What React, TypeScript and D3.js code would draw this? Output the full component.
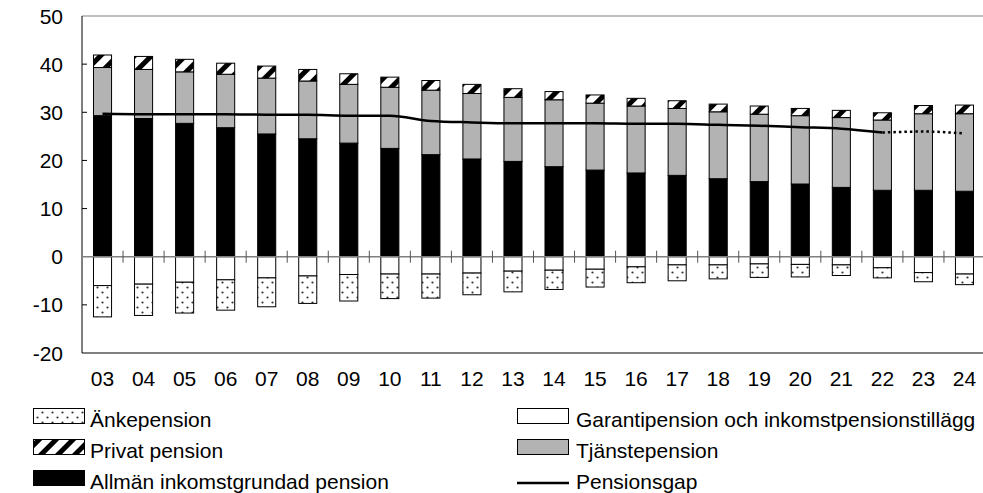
import React from 'react';
import * as d3 from 'd3';

// Years (x categories)
const years = ['03','04','05','06','07','08','09','10','11','12','13','14','15','16','17','18','19','20','21','22','23','24'];

// Positive stack
const allman   = [29.3,28.7,27.7,26.8,25.5,24.5,23.6,22.5,21.2,20.3,19.8,18.7,18.0,17.4,16.9,16.2,15.6,15.1,14.4,13.8,13.8,13.6];
const tjanste  = [10.0,10.2,10.7,11.1,11.6,12.0,12.2,12.7,13.4,13.6,13.3,13.9,13.9,13.9,13.9,13.9,14.0,14.2,14.5,14.6,15.9,16.1];
const privat   = [2.6,2.7,2.6,2.3,2.5,2.4,2.2,2.1,2.0,1.9,1.8,1.7,1.7,1.6,1.6,1.6,1.7,1.5,1.5,1.5,1.7,1.8];
// Negative stack
const garanti  = [-6.0,-5.7,-5.3,-4.8,-4.4,-4.0,-3.7,-3.6,-3.6,-3.4,-3.0,-2.8,-2.6,-2.1,-1.7,-1.7,-1.5,-1.6,-1.7,-2.3,-3.3,-3.6];
const anke     = [-6.5,-6.5,-6.4,-6.3,-6.0,-5.7,-5.5,-5.1,-5.0,-4.5,-4.3,-4.0,-3.7,-3.3,-3.3,-2.9,-2.8,-2.6,-2.2,-2.1,-1.9,-2.2];
// Line
const pensionsgap = [29.7,29.6,29.6,29.6,29.5,29.5,29.3,29.3,28.2,27.9,27.7,27.7,27.7,27.6,27.6,27.4,27.2,26.9,26.6,25.8,26.0,25.6];
const forecastFrom = 19; // index of '22', dotted after this

const yTicks = [50,40,30,20,10,0,-10,-20];

const W = 983, H = 493;
const font = 'Arial, "Liberation Sans", sans-serif';

const keys = ['allman','garanti','tjanste','anke','privat'];
const fills: Record<string,string> = {
  allman: '#000',
  garanti: '#fff',
  tjanste: '#b3b3b3',
  anke: 'url(#dots)',
  privat: 'url(#stripes)',
};

export default function App() {
  const rows = years.map((y, i) => ({
    year: y,
    allman: allman[i], garanti: garanti[i], tjanste: tjanste[i], anke: anke[i], privat: privat[i],
  }));
  const series = d3.stack<any>().keys(keys).offset(d3.stackOffsetDiverging)(rows);

  const x = d3.scaleBand().domain(years).range([82, 985]).paddingInner(0.56).paddingOuter(0.28);
  const y = d3.scaleLinear().domain([-20, 50]).range([353, 16]);
  const step = x.step();
  const cx = (d: string) => (x(d) as number) + x.bandwidth() / 2;

  const line = d3.line<number>().x((_, i) => cx(years[i])).y(v => y(v)).curve(d3.curveMonotoneX);
  const solidPts = pensionsgap.slice(0, forecastFrom + 1);
  const dotted = d3.line<number>().x((_, i) => cx(years[i + forecastFrom])).y(v => y(v)).curve(d3.curveMonotoneX);
  const dottedPts = pensionsgap.slice(forecastFrom);

  const legendLeft = [
    { label: 'Änkepension', fill: 'url(#dots)' },
    { label: 'Privat pension', fill: 'url(#stripes)' },
    { label: 'Allmän inkomstgrundad pension', fill: '#000' },
  ];
  const legendRight = [
    { label: 'Garantipension och inkomstpensionstillägg', fill: '#fff' },
    { label: 'Tjänstepension', fill: '#b3b3b3' },
    { label: 'Pensionsgap', fill: null },
  ];

  return (
    <div style={{ position: 'absolute', left: 0, top: 0 }}>
      <svg width={W} height={H} style={{ display: 'block', fontFamily: font }}>
        <defs>
          <pattern id="dots" patternUnits="userSpaceOnUse" width="10" height="10">
            <rect width="10" height="10" fill="#fff" />
            <circle cx="2.5" cy="2.5" r="1.1" fill="#333" />
            <circle cx="7.5" cy="7.5" r="1.1" fill="#333" />
          </pattern>
          <pattern id="stripes" patternUnits="userSpaceOnUse" width="12" height="12" patternTransform="rotate(45)">
            <rect width="12" height="12" fill="#fff" />
            <rect width="5" height="12" fill="#000" />
          </pattern>
        </defs>

        {/* frame */}
        <line x1={82} x2={985} y1={y(50)} y2={y(50)} stroke="#808080" />
        <line x1={82} x2={985} y1={y(-20)} y2={y(-20)} stroke="#000" />
        <line x1={82} x2={82} y1={y(50)} y2={y(-20)} stroke="#000" />

        {yTicks.map(t => (
          <g key={t}>
            {t !== 50 && t !== -20 && t !== 0 && (
              <line x1={82} x2={87} y1={y(t)} y2={y(t)} stroke="#000" />
            )}
            <text x={63} y={y(t)} dy="0.36em" textAnchor="end" fontSize={21}>{t}</text>
          </g>
        ))}

        {/* bars */}
        {series.map(s => (
          <g key={s.key}>
            {s.map((d, i) => (
              <rect key={i}
                x={x(years[i])}
                width={x.bandwidth()}
                y={y(Math.max(d[0], d[1]))}
                height={Math.abs(y(d[0]) - y(d[1]))}
                fill={fills[s.key]}
                stroke="#000"
                strokeWidth={1}
              />
            ))}
          </g>
        ))}

        {/* zero line with category ticks */}
        <line x1={82} x2={985} y1={y(0)} y2={y(0)} stroke="#808080" strokeWidth={1.5} />
        {years.slice(1).map(yr => (
          <line key={yr} x1={(x(yr) as number) - step * 0.28} x2={(x(yr) as number) - step * 0.28}
            y1={y(0) - 6} y2={y(0) + 6} stroke="#555" />
        ))}

        {/* pensionsgap */}
        <path d={line(solidPts) || ''} fill="none" stroke="#000" strokeWidth={2.5} />
        <path d={dotted(dottedPts) || ''} fill="none" stroke="#000" strokeWidth={2.5} strokeDasharray="2.5 3" />

        {/* x labels */}
        {years.map(yr => (
          <text key={yr} x={cx(yr)} y={386} textAnchor="middle" fontSize={21}>{yr}</text>
        ))}

        {/* legend */}
        {legendLeft.map((l, i) => (
          <g key={l.label}>
            <rect x={33.5} y={408.5 + i * 31} width={51} height={15} fill={l.fill} stroke="#000" strokeWidth={1} />
            <text x={90} y={427 + i * 31} fontSize={21}>{l.label}</text>
          </g>
        ))}
        {legendRight.map((l, i) => (
          <g key={l.label}>
            {l.fill ? (
              <rect x={517.5} y={408.5 + i * 31} width={51} height={15} fill={l.fill} stroke="#000" strokeWidth={1} />
            ) : (
              <line x1={517} x2={569} y1={483} y2={483} stroke="#000" strokeWidth={2.5} />
            )}
            <text x={576} y={427 + i * 31} fontSize={21}>{l.label}</text>
          </g>
        ))}
      </svg>
    </div>
  );
}
